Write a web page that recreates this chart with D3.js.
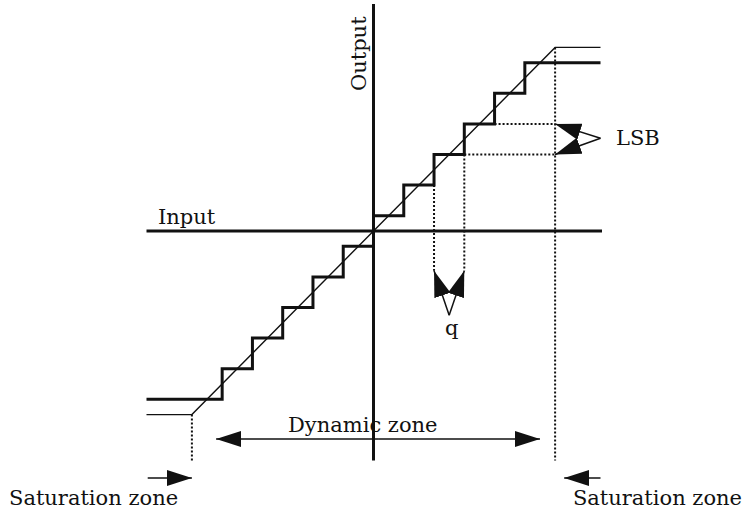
<!DOCTYPE html>
<html>
<head>
<meta charset="utf-8">
<script src="https://cdn.jsdelivr.net/npm/d3@7/dist/d3.min.js"></script>
<style>
  html, body { margin: 0; padding: 0; background: #fff; }
  svg { display: block; }
  text { font-family: "DejaVu Serif", serif; fill: #111; }
</style>
</head>
<body>
<script>
// ---- data (in units of q on the input axis, LSB on the output axis) ----
const xDomain = [-7.5, 7.5];            // input axis extent
const yDomain = [-7.5, 7.42];           // output axis extent
// quantizer staircase: step edges on input and output levels
const stairX = [-7.5, -5, -4, -3, -2, -1, 0, 1, 2, 3, 4, 5, 7.5];
const stairY = [-5.5, -4.5, -3.5, -2.5, -1.5, -0.5, 0.5, 1.5, 2.5, 3.5, 4.5, 5.5, 5.5];
// ideal transfer line (with saturation)
const idealX = [-7.5, -6, 6, 7.5];
const idealY = [-6, -6, 6, 6];
// dynamic zone limits
const satLimit = [-6, 6];
// LSB / q annotation
const lsbLevels = [2.5, 3.5];
const lsbFrom = [3, 4];
const qEdges = [2, 3];
const qTipY = -1.3;
const lsbBase = [7.5, 3.03];
const qBase = [2.5, -2.75];
// zone arrows
const dynArrow = { y: -6.8, x0: -5.2, x1: 5.5 };
const satArrowY = -8.07;
const satLeft = [-7.46, -6.0];
const satRight = [7.5, 6.3];
const bottomY = -7.5;
const labels = { input: "Input", output: "Output", lsb: "LSB", q: "q",
                 dyn: "Dynamic zone", sat: "Saturation zone" };

// ---- drawing ----
const W = 745, H = 513;
const x = d3.scaleLinear().domain(xDomain).range([146.5, 600.5]);
const y = d3.scaleLinear().domain([0, 1]).range([231, 200.4]);

const svg = d3.select("body").append("svg").attr("width", W).attr("height", H);
const defs = svg.append("defs");
function marker(id, len, hw) {
  defs.append("marker").attr("id", id)
    .attr("markerUnits", "userSpaceOnUse")
    .attr("markerWidth", len + 2).attr("markerHeight", 2 * hw + 2)
    .attr("viewBox", `0 ${-hw - 1} ${len + 2} ${2 * hw + 2}`)
    .attr("refX", len).attr("refY", 0)
    .attr("orient", "auto")
    .append("path").attr("d", `M0,${-hw}L${len},0L0,${hw}Z`).attr("fill", "#111");
}
marker("ah", 25, 8);
marker("ah2", 26, 8.5);

const line = d3.line().x(d => x(d[0])).y(d => y(d[1]));

// axes
svg.append("line").attr("x1", x(xDomain[0])).attr("x2", x(xDomain[1]) + 1.5)
  .attr("y1", y(0)).attr("y2", y(0)).attr("stroke", "#111").attr("stroke-width", 3);
svg.append("line").attr("x1", x(0)).attr("x2", x(0))
  .attr("y1", y(yDomain[1])).attr("y2", y(yDomain[0])).attr("stroke", "#111").attr("stroke-width", 3);

// dotted guides
const dotted = g => g.attr("stroke", "#111").attr("stroke-width", 2).attr("stroke-dasharray", "2,2").attr("fill", "none");
satLimit.forEach(s => {
  svg.append("line").call(dotted)
    .attr("x1", x(s)).attr("x2", x(s)).attr("y1", y(s)).attr("y2", y(bottomY));
});
qEdges.forEach(e => {
  svg.append("line").call(dotted)
    .attr("x1", x(e)).attr("x2", x(e)).attr("y1", y(stairY[stairX.indexOf(e) - 1])).attr("y2", y(qTipY));
});
lsbLevels.forEach((l, i) => {
  svg.append("line").call(dotted)
    .attr("x1", x(lsbFrom[i])).attr("x2", x(satLimit[1])).attr("y1", y(l)).attr("y2", y(l));
});

// ideal line
svg.append("path").attr("d", line(idealX.map((v, i) => [v, idealY[i]])))
  .attr("fill", "none").attr("stroke", "#111").attr("stroke-width", 1.4);

// staircase
svg.append("path")
  .attr("d", d3.line().x(d => x(d[0])).y(d => y(d[1])).curve(d3.curveStepAfter)(stairX.map((v, i) => [v, stairY[i]])))
  .attr("fill", "none").attr("stroke", "#111").attr("stroke-width", 3).attr("stroke-linejoin", "miter");

// LSB and q arrows
const thin = g => g.attr("stroke", "#111").attr("stroke-width", 1.5).attr("fill", "none");
lsbLevels.forEach(l => {
  svg.append("line").call(thin).attr("marker-end", "url(#ah2)")
    .attr("x1", x(lsbBase[0])).attr("y1", y(lsbBase[1])).attr("x2", x(satLimit[1])).attr("y2", y(l));
});
qEdges.forEach(e => {
  svg.append("line").call(thin).attr("marker-end", "url(#ah2)")
    .attr("x1", x(qBase[0])).attr("y1", y(qBase[1])).attr("x2", x(e)).attr("y2", y(qTipY));
});

// dynamic zone double arrow
const midDyn = (dynArrow.x0 + dynArrow.x1) / 2;
[dynArrow.x0, dynArrow.x1].forEach(t => {
  svg.append("line").call(thin).attr("marker-end", "url(#ah)")
    .attr("x1", x(midDyn)).attr("x2", x(t)).attr("y1", y(dynArrow.y)).attr("y2", y(dynArrow.y));
});
// saturation arrows
[satLeft, satRight].forEach(a => {
  svg.append("line").call(thin).attr("marker-end", "url(#ah)")
    .attr("x1", x(a[0])).attr("x2", x(a[1])).attr("y1", y(satArrowY)).attr("y2", y(satArrowY));
});

// labels
const fs = 21;
svg.append("text").attr("x", 158).attr("y", 224).attr("font-size", fs).text(labels.input);
svg.append("text").attr("transform", `translate(366,91) rotate(-90)`).attr("font-size", fs).text(labels.output);
svg.append("text").attr("x", 616).attr("y", 145).attr("font-size", fs).text(labels.lsb);
svg.append("text").attr("x", 445).attr("y", 335).attr("font-size", fs).text(labels.q);
svg.append("text").attr("x", 288).attr("y", 432).attr("font-size", fs).text(labels.dyn);
svg.append("text").attr("x", 9).attr("y", 505).attr("font-size", fs).text(labels.sat);
svg.append("text").attr("x", 742).attr("y", 505).attr("text-anchor", "end").attr("font-size", fs).text(labels.sat);
</script>
</body>
</html>
